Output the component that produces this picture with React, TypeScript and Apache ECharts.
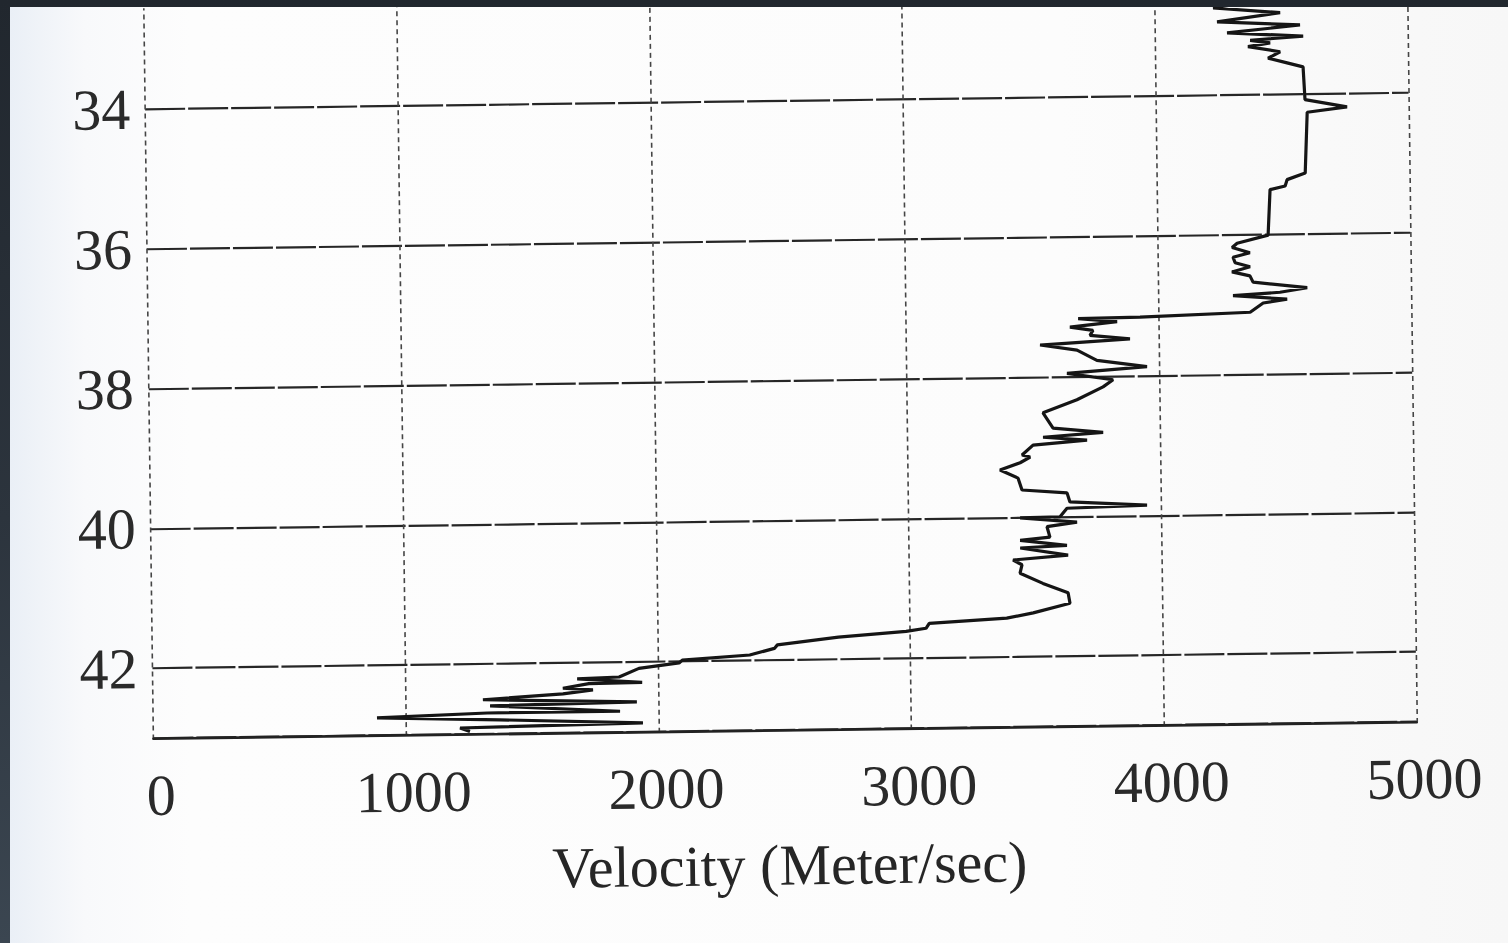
import React, { useEffect, useRef } from "react";
import * as echarts from "echarts";

// Depth (m) along the log, increasing downward
const depthM: number[] = [
  32.66, 32.75, 32.83, 32.95, 33.01, 33.11, 33.17, 33.22, 33.26, 33.31,
  33.39, 33.48, 33.55, 33.61, 34.08, 34.19, 34.26, 35.13, 35.22, 35.31,
  35.36, 36.01, 36.12, 36.18, 36.26, 36.32, 36.40, 36.46, 36.53, 36.59,
  36.68, 36.77, 36.83, 36.87, 36.93, 36.98, 37.11, 37.16, 37.17, 37.22,
  37.29, 37.34, 37.41, 37.47, 37.54, 37.62, 37.77, 37.87, 37.95, 38.05,
  38.15, 38.33, 38.51, 38.73, 38.80, 38.86, 38.91, 38.97, 39.11, 39.14,
  39.22, 39.32, 39.44, 39.61, 39.66, 39.79, 39.85, 39.88, 40.00, 40.01,
  40.08, 40.14, 40.29, 40.33, 40.41, 40.44, 40.55, 40.61, 40.68, 40.80,
  40.95, 41.09, 41.24, 41.37, 41.44, 41.50, 41.57, 41.61, 41.68, 41.78,
  41.83, 41.92, 41.98, 42.02, 42.09, 42.21, 42.23, 42.29, 42.30, 42.36,
  42.39, 42.44, 42.51, 42.57, 42.60, 42.70, 42.70, 42.75, 42.80, 42.87,
  42.91, 42.96,
];

// Velocity (m/s) at each depth
const velocityMs: number[] = [
  4400, 4231, 4496, 4246, 4574, 4285, 4586, 4376, 4455, 4367,
  4494, 4446, 4521, 4584, 4590, 4756, 4598, 4587, 4515, 4507,
  4447, 4437, 4314, 4294, 4364, 4297, 4305, 4364, 4292, 4363,
  4375, 4589, 4481, 4295, 4509, 4414, 4362, 3926, 3681, 3835,
  3648, 3739, 3727, 3885, 3529, 3675, 3753, 3951, 3634, 3816,
  3776, 3672, 3537, 3576, 3774, 3536, 3710, 3496, 3452, 3484,
  3444, 3364, 3435, 3450, 3628, 3639, 3944, 3627, 3599, 3441,
  3666, 3547, 3558, 3440, 3625, 3440, 3629, 3411, 3446, 3438,
  3528, 3627, 3634, 3488, 3383, 3076, 3063, 2984, 2716, 2474,
  2462, 2364, 2097, 2084, 1925, 1846, 1680, 1937, 1726, 1623,
  1742, 1623, 1306, 1915, 1334, 1848, 1322, 886, 1372, 1938,
  1214, 1253,
];

const xTickValues: number[] = [0, 1000, 2000, 3000, 4000, 5000];
const yTickLabels: number[] = [34, 36, 38, 40, 42];
const xAxisTitle = "Velocity (Meter/sec)";

export default function App() {
  const ref = useRef<HTMLDivElement>(null);

  useEffect(() => {
    document.body.style.margin = "0";
    document.body.style.overflow = "hidden";
    const el = ref.current;
    if (!el) return;
    const chart = echarts.init(el, null, { renderer: "svg" });
    const points = depthM.map((d, i) => [velocityMs[i], d]);
    const serif = "'Liberation Serif', 'DejaVu Serif', serif";
    chart.setOption({
      animation: false,
      backgroundColor: "transparent",
      grid: {
        left: 149,
        right: 95.5,
        top: -38.8,
        bottom: 212.9,
        containLabel: false,
        outerBoundsMode: "none",
      },
      xAxis: {
        type: "value",
        min: 0,
        max: 5000,
        interval: 1000,
        name: xAxisTitle,
        nameLocation: "middle",
        nameGap: 106,
        nameTextStyle: {
          fontFamily: serif,
          fontSize: 58,
          color: "#262626",
          padding: [0, 0, 0, 6],
        },
        axisLine: {
          show: true,
          lineStyle: { color: "#222222", width: 2.6 },
        },
        axisTick: { show: false },
        axisLabel: {
          fontFamily: serif,
          fontSize: 58,
          color: "#2a2a2a",
          margin: 28,
          padding: [0, 0, 0, 14],
          formatter: (v: number) =>
            xTickValues.includes(v) ? String(v) : "",
        },
        splitLine: {
          show: true,
          lineStyle: { color: "#454545", width: 1.6, type: [5, 4] },
        },
      },
      yAxis: {
        type: "value",
        inverse: true,
        min: 32,
        max: 43,
        interval: 2,
        axisLine: { show: false },
        axisTick: { show: false },
        axisLabel: {
          fontFamily: serif,
          fontSize: 58,
          color: "#2a2a2a",
          margin: 15,
          formatter: (v: number) =>
            yTickLabels.includes(v) ? String(v) : "",
        },
        splitLine: {
          show: true,
          lineStyle: { color: "#262626", width: 2.2, type: [40, 3] },
        },
      },
      series: [
        {
          type: "line",
          data: points,
          showSymbol: false,
          symbol: "none",
          clip: false,
          lineStyle: { color: "#151515", width: 3.2 },
          z: 3,
        },
      ],
    });
    return () => chart.dispose();
  }, []);

  return (
    <div
      style={{
        position: "relative",
        width: 1508,
        height: 943,
        overflow: "hidden",
        background: "linear-gradient(to bottom, #21272e 0%, #2c343d 55%, #3b4651 100%)",
      }}
    >
      <div
        style={{
          position: "absolute",
          left: 10,
          top: 7,
          width: 1498,
          height: 936,
          overflow: "hidden",
          background:
            "linear-gradient(to right, #eaeff6 0%, #f8f9fb 5%, #fdfdfd 12%, #fcfcfc 70%, #f7f7f7 100%)",
        }}
      >
        <div
          ref={ref}
          style={{
            position: "absolute",
            left: -10,
            top: -7,
            width: 1508,
            height: 943,
            transform: "rotate(-0.75deg)",
            transformOrigin: "780px 400px",
          }}
        />
      </div>
    </div>
  );
}
